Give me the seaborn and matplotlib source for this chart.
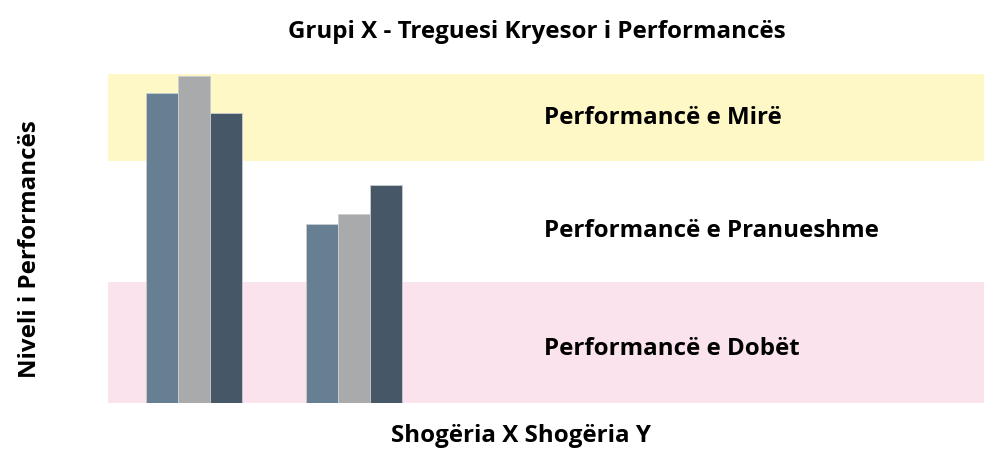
import pandas as pd
import matplotlib
matplotlib.use("Agg")
import matplotlib.pyplot as plt
import seaborn as sns

sns.set_style("white")
plt.rcParams['font.family'] = ['Open Sans', 'DejaVu Sans']
plt.rcParams['text.color'] = 'black'
plt.rcParams['axes.labelcolor'] = 'black'

# ------------------------------
# data
# ------------------------------
companies = ["Shogëria X", "Shogëria Y"]
series = ["Seria 1", "Seria 2", "Seria 3"]
values_x = [2.56, 2.70, 2.40]
values_y = [1.48, 1.56, 1.80]
bar_colors = ["#677f92", "#a9aaac", "#465868"]

band_labels = ["Performancë e Dobët", "Performancë e Pranueshme", "Performancë e Mirë"]
band_limits = [0, 1, 2, 3]
band_colors = ["#fae3ec", "#ffffff", "#fdf8c6"]

df = pd.DataFrame({
    "company": [companies[0]] * 3 + [companies[1]] * 3,
    "series": series * 2,
    "value": values_x + values_y,
})

# ------------------------------
# figure
# ------------------------------
fig = plt.figure(figsize=(9.84, 4.5), dpi=100)
ax = fig.add_axes([108 / 984, 47 / 450, 876 / 984, 329 / 450])
ymax = 2.72
fs = 17.4

# background bands + labels (label baseline a bit below the visible middle)
label_base = [0.40, 1.37, 2.31]
for i in range(3):
    ax.axhspan(band_limits[i], band_limits[i + 1], color=band_colors[i], zorder=0, lw=0)
    ax.text(2.19, label_base[i], band_labels[i],
            fontsize=fs, fontweight="bold", va="baseline", ha="left", zorder=3)

sns.barplot(data=df, x="company", y="value", hue="series", palette=bar_colors,
            width=0.6, edgecolor="#c9cdd1", linewidth=0.6, saturation=1,
            legend=False, ax=ax, zorder=2)

ax.set_xlim(-0.54, 4.94)
ax.set_ylim(0, ymax)
ax.set_xticks([])
ax.set_yticks([])
for s in ax.spines.values():
    s.set_visible(False)

ax.set_ylabel("Niveli i Performancës", fontsize=fs, fontweight="bold", va="center")
ax.yaxis.set_label_coords(-(108 - 30) / 876, (403 - 249) / 329)
ax.set_xlabel("Shogëria X Shogëria Y", fontsize=fs, fontweight="bold", va="center")
ax.xaxis.set_label_coords((521 - 108) / 876, -(436 - 403) / 329)

fig.text(537 / 984, 1 - 38 / 450, "Grupi X - Treguesi Kryesor i Performancës",
         fontsize=fs, fontweight="bold", ha="center", va="baseline")

fig.savefig("out.png", dpi=100)
